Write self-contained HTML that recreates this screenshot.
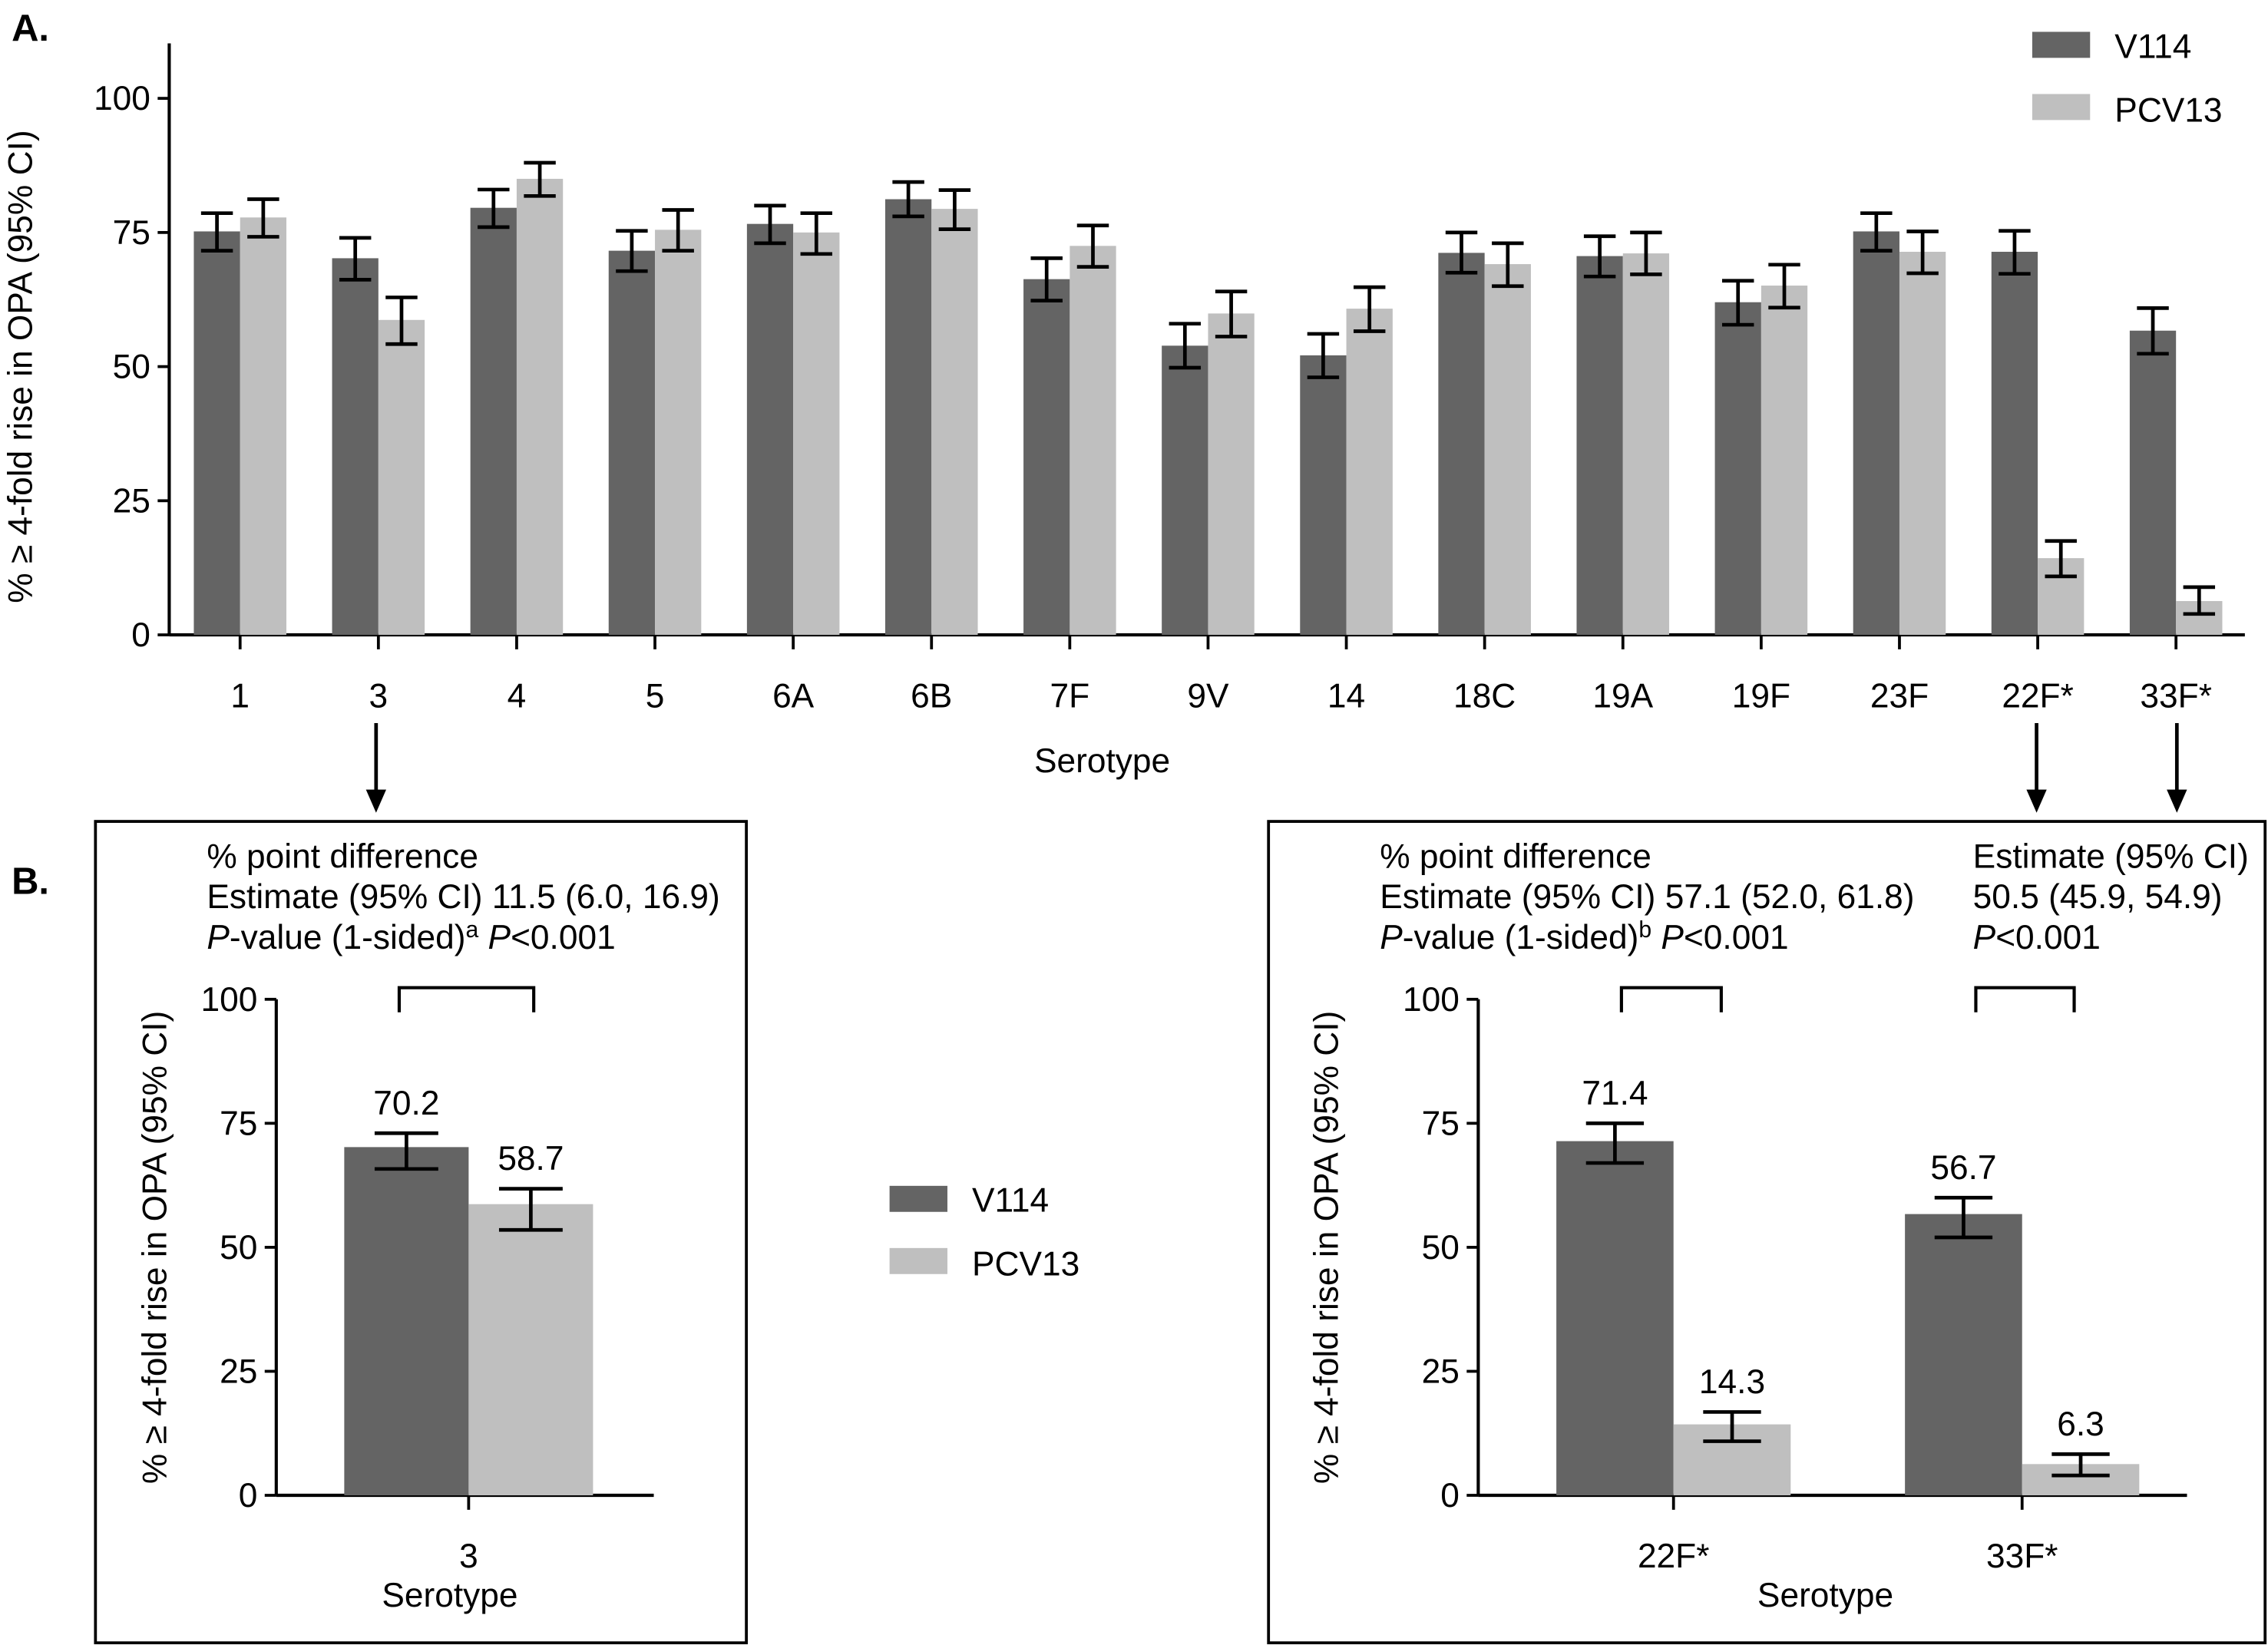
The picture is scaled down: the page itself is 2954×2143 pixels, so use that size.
<!DOCTYPE html>
<html><head><meta charset="utf-8"><style>
html,body{margin:0;padding:0;background:#fff}
svg{display:block}
text{font-family:"Liberation Sans",Arial,sans-serif;fill:#000}
</style></head><body>
<svg id="chart" width="2954" height="2143" viewBox="0 0 1568 1137.5" xmlns="http://www.w3.org/2000/svg">
<g id="root"></g>
</svg>
<script>
const categories=["1","3","4","5","6A","6B","7F","9V","14","18C","19A","19F","23F","22F*","33F*"];
const v114=[75.2,70.2,79.6,71.6,76.6,81.2,66.3,53.9,52.1,71.2,70.6,62.0,75.2,71.4,56.7];
const v114Lo=[71.6,66.2,76.0,67.8,73.0,78.0,62.3,49.8,48.0,67.5,66.8,57.8,71.6,67.3,52.4];
const v114Hi=[78.6,74.0,83.0,75.3,80.0,84.4,70.2,58.0,56.1,75.0,74.3,66.0,78.6,75.3,60.9];
const pcv=[77.8,58.7,85.0,75.5,75.0,79.4,72.5,59.9,60.8,69.1,71.1,65.1,71.4,14.3,6.3];
const pcvLo=[74.2,54.2,81.8,71.6,71.0,75.6,68.6,55.6,56.6,65.0,67.2,61.0,67.4,10.9,3.9];
const pcvHi=[81.2,62.9,88.0,79.2,78.6,82.9,76.3,64.0,64.8,73.0,75.0,69.0,75.2,17.5,8.9];
const yTicks=[0,25,50,75,100];
const bCats=["3"];const bV=[70.2];const bVLo=[65.8];const bVHi=[73.0];const bP=[58.7];const bPLo=[53.5];const bPHi=[61.8];
const cCats=["22F*","33F*"];const cV=[71.4,56.7];const cVLo=[67.0,52.0];const cVHi=[75.0,60.0];const cP=[14.3,6.3];const cPLo=[10.9,4.0];const cPHi=[16.8,8.3];

const FS=23.5;
const NS="http://www.w3.org/2000/svg";const root=document.getElementById('root');
function mk(t,a,p){const e=document.createElementNS(NS,t);for(const k in a)e.setAttribute(k,a[k]);(p||root).appendChild(e);return e;}
function txt(x,y,s,size,anchor,name,extra){const e=mk('text',Object.assign({x:x,y:y,'font-size':size,'text-anchor':anchor||'start'},extra||{}));e.innerHTML=s;return e;}
function line(x1,y1,x2,y2,w){return mk('line',{x1,y1,x2,y2,stroke:'#000','stroke-width':w||2});}
const DARK='#646464',LIGHT='#bfbfbf';

function panel(o){
 const y=v=>o.y0-(v/100)*(o.y0-o.y100);
 const ax=line(o.x0,o.yTop,o.x0,o.y0,2.2);
 const xa=line(o.x0,o.y0,o.x1,o.y0,2.2);
 yTicks.forEach(t=>{const l=line(o.x0-8,y(t),o.x0,y(t),2);
  txt(o.x0-13,y(t)+8,t,FS,'end','y-tick-label');});
 o.cats.forEach((c,i)=>{const cx=o.cx(i);
  const tk=line(cx,o.y0,cx,o.y0+10,2);
  txt(cx,o.y0+o.labOff,c,FS,'middle','x-tick-label');
  [[o.v,o.vl,o.vh,DARK,-1,'v114'],[o.p,o.pl,o.ph,LIGHT,0,'pcv13']].forEach(s=>{
   const bx=cx+s[4]*o.bw;const r=mk('rect',{x:bx,y:y(s[0][i]),width:o.bw,height:o.y0-y(s[0][i]),fill:s[3]});
   
   const mx=bx+o.bw/2,cw=o.cap;
   const g=mk('g',{});
   mk('line',{x1:mx,y1:y(s[1][i]),x2:mx,y2:y(s[2][i]),stroke:'#000','stroke-width':2.5},g);
   mk('line',{x1:mx-cw,y1:y(s[1][i]),x2:mx+cw,y2:y(s[1][i]),stroke:'#000','stroke-width':2.5},g);
   mk('line',{x1:mx-cw,y1:y(s[2][i]),x2:mx+cw,y2:y(s[2][i]),stroke:'#000','stroke-width':2.5},g);
   if(o.labels){txt(mx,y(s[2][i])-13,s[0][i].toFixed(1),FS,'middle','value-label');}
  });
 });
 txt(0,0,'% ≥ 4-fold rise in OPA (95% CI)',FS,'middle',o.id+'-y-axis-title',{transform:`translate(${o.ylx},${(o.y0+o.y100)/2}) rotate(-90)`});
}
panel({id:'a',x0:117,x1:1552,y0:439,y100:68,yTop:30,cats:categories,cx:i=>166+i*95.6,bw:32,cap:11,v:v114,vl:v114Lo,vh:v114Hi,p:pcv,pl:pcvLo,ph:pcvHi,labOff:50,ylx:22});
txt(8,28,'A.',26,'start','panel-a-label',{'font-weight':'bold'});
txt(762,534,'Serotype',FS,'middle','a-x-axis-title');
function legend(x,y1,y2,n){
 const r1=mk('rect',{x:x,y:y1,width:40,height:18,fill:DARK});
 txt(x+57,y1+18,'V114',FS,'start',n+'-v114-label');
 const r2=mk('rect',{x:x,y:y2,width:40,height:18,fill:LIGHT});
 txt(x+57,y2+19,'PCV13',FS,'start',n+'-pcv13-label');
}
legend(1405,22,65,'legend-a');
[260,1408,1505].forEach(x=>{const g=mk('g',{});
 mk('line',{x1:x,y1:500,x2:x,y2:548,stroke:'#000','stroke-width':2.5},g);
 mk('polygon',{points:`${x-7},546 ${x+7},546 ${x},562`,fill:'#000'},g);});
txt(8,618,'B.',26,'start','panel-b-label',{'font-weight':'bold'});
const b1=mk('rect',{x:66,y:568,width:450,height:568,fill:'none',stroke:'#000','stroke-width':2});
const b2=mk('rect',{x:877,y:568,width:689,height:568,fill:'none',stroke:'#000','stroke-width':2});
txt(143,600,'% point difference',FS,'start','stats-header');
txt(143,628,'Estimate (95% CI) 11.5 (6.0, 16.9)',FS,'start','stats-estimate');
txt(143,656,'<tspan font-style="italic">P</tspan>-value (1-sided)<tspan font-size="16" dy="-8">a</tspan><tspan dy="8"> </tspan><tspan font-style="italic">P</tspan>&lt;0.001',FS,'start','stats-pvalue');
txt(954,600,'% point difference',FS,'start','stats-header');
txt(954,628,'Estimate (95% CI) 57.1 (52.0, 61.8)',FS,'start','stats-estimate');
txt(954,656,'<tspan font-style="italic">P</tspan>-value (1-sided)<tspan font-size="16" dy="-8">b</tspan><tspan dy="8"> </tspan><tspan font-style="italic">P</tspan>&lt;0.001',FS,'start','stats-pvalue');
txt(1364,600,'Estimate (95% CI)',FS,'start','stats-header');
txt(1364,628,'50.5 (45.9, 54.9)',FS,'start','stats-estimate');
txt(1364,656,'<tspan font-style="italic">P</tspan>&lt;0.001',FS,'start','stats-pvalue');
panel({id:'b',x0:191,x1:452,y0:1034,y100:691,yTop:691,cats:bCats,cx:i=>324,bw:86,cap:22,v:bV,vl:bVLo,vh:bVHi,p:bP,pl:bPLo,ph:bPHi,labOff:50,ylx:115,labels:true});
txt(311,1111,'Serotype',FS,'middle','b-x-axis-title');
panel({id:'c',x0:1022,x1:1512,y0:1034,y100:691,yTop:691,cats:cCats,cx:i=>1157+i*241,bw:81,cap:20,v:cV,vl:cVLo,vh:cVHi,p:cP,pl:cPLo,ph:cPHi,labOff:50,ylx:925,labels:true});
txt(1262,1111,'Serotype',FS,'middle','c-x-axis-title');
[[276,369],[1121,1190],[1366,1434]].forEach(b=>{const p=mk('path',{d:`M${b[0]},700 V683 H${b[1]} V700`,fill:'none',stroke:'#000','stroke-width':2.2});});
legend(615,820,863,'legend-b');
</script>
</body></html>
